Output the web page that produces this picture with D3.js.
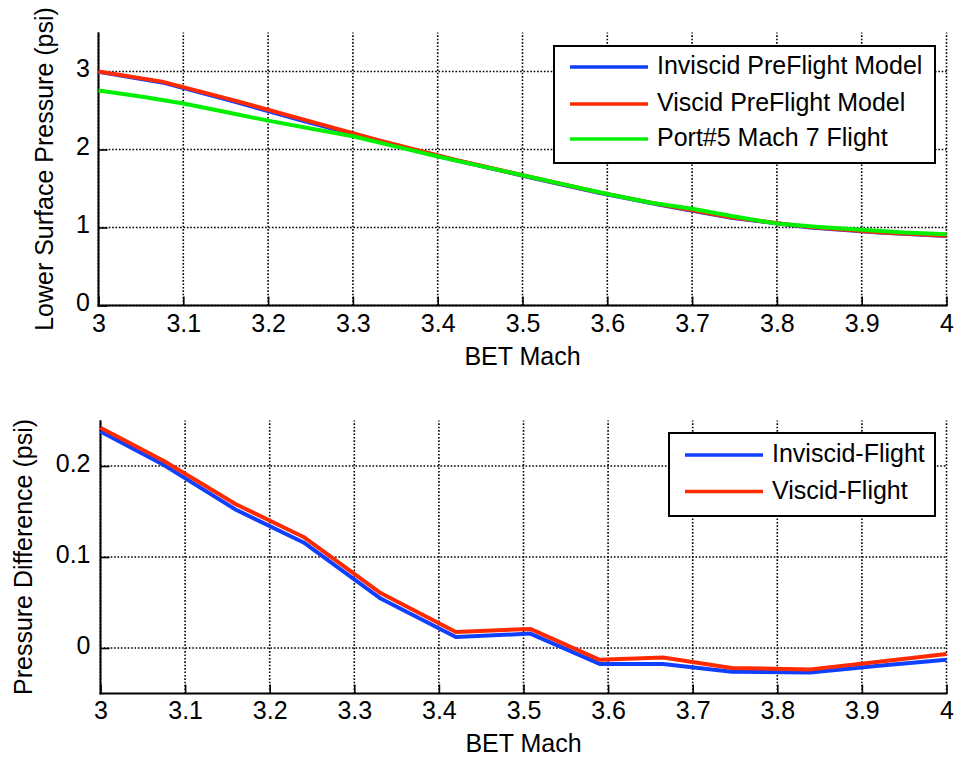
<!DOCTYPE html>
<html>
<head>
<meta charset="utf-8">
<script src="https://cdn.jsdelivr.net/npm/d3@7"></script>
<style>
  html, body { margin: 0; padding: 0; background: #fff; }
  svg { display: block; font-family: "Liberation Sans", Arial, Helvetica, sans-serif; }
</style>
</head>
<body>
<svg id="chart" width="955" height="759"></svg>
<script>
// ---- Data -------------------------------------------------------------
// Model stations (BET Mach) shared by the preflight predictions
const modelMach = [3.0, 3.075, 3.16, 3.24, 3.33, 3.42, 3.508, 3.59, 3.665, 3.746, 3.839, 3.92, 4.0];
// Lower surface pressure (psi), preflight models
const invisidPressure = [2.995, 2.86, 2.615, 2.37, 2.11, 1.865, 1.645, 1.445, 1.285, 1.125, 1.0, 0.935, 0.89];
const viscidPressure  = [3.0, 2.87, 2.63, 2.39, 2.12, 1.87, 1.65, 1.45, 1.29, 1.13, 1.005, 0.94, 0.895];
// Port#5 flight measurement
const flightMach = [3.0, 3.05, 3.1, 3.15, 3.2, 3.25, 3.3, 3.35, 3.4, 3.45, 3.5, 3.55, 3.6, 3.65, 3.7, 3.75, 3.8, 3.85, 3.9, 3.95, 4.0];
const flightPressure = [2.756, 2.68, 2.59, 2.48, 2.37, 2.27, 2.17, 2.04, 1.91, 1.79, 1.67, 1.55, 1.43, 1.32, 1.24, 1.14, 1.05, 1.005, 0.97, 0.935, 0.915];
// Model minus flight (psi)
const inviscidDiff = [0.238, 0.201, 0.152, 0.116, 0.055, 0.012, 0.0158, -0.0175, -0.0175, -0.026, -0.027, -0.0195, -0.013];
const viscidDiff   = [0.242, 0.2055, 0.158, 0.122, 0.061, 0.0175, 0.021, -0.013, -0.0105, -0.022, -0.0235, -0.015, -0.0065];

const machTicks = [3, 3.1, 3.2, 3.3, 3.4, 3.5, 3.6, 3.7, 3.8, 3.9, 4];
const pressureTicks = [0, 1, 2, 3];
const diffTicks = [0, 0.1, 0.2];

const topSeries = [
  { name: "Inviscid PreFlight Model", x: modelMach, y: invisidPressure, color: "#1040ff" },
  { name: "Viscid PreFlight Model",   x: modelMach, y: viscidPressure,  color: "#ff2a00" },
  { name: "Port#5 Mach 7 Flight",     x: flightMach, y: flightPressure, color: "#00f000" }
];
const bottomSeries = [
  { name: "Inviscid-Flight", x: modelMach, y: inviscidDiff, color: "#1040ff" },
  { name: "Viscid-Flight",   x: modelMach, y: viscidDiff,   color: "#ff2a00" }
];

// ---- Drawing ------------------------------------------------------------
const svg = d3.select("#chart");

function drawPanel(cfg) {
  const g = svg.append("g");
  const x = d3.scaleLinear().domain([3, 4]).range([cfg.left, cfg.right]);
  const y = d3.scaleLinear().domain(cfg.yDomain).range([cfg.bottom, cfg.top]);

  // dotted grid
  const grid = g.append("g").attr("stroke", "#000").attr("stroke-width", 1.6)
    .attr("stroke-dasharray", "1.6,1.8").attr("fill", "none");
  machTicks.forEach(t => {
    grid.append("line").attr("x1", x(t)).attr("x2", x(t))
      .attr("y1", cfg.bottom).attr("y2", cfg.top);
  });
  cfg.yTicks.forEach(t => {
    grid.append("line").attr("x1", cfg.left).attr("x2", cfg.right)
      .attr("y1", y(t)).attr("y2", y(t));
  });

  // axes with inward ticks
  const xAxis = d3.axisBottom(x).tickValues(machTicks).tickSizeInner(-9).tickSizeOuter(0)
    .tickPadding(0).tickFormat(d3.format("~g"));
  const gx = g.append("g").attr("transform", `translate(0,${cfg.bottom})`).call(xAxis);
  gx.selectAll(".tick line").attr("stroke", "#000").attr("stroke-width", 1.6);
  gx.selectAll(".tick text").attr("font-size", 25).attr("fill", "#000")
    .attr("y", cfg.xTickBaseline - cfg.bottom).attr("dy", null).attr("font-family", null);

  const yAxis = d3.axisLeft(y).tickValues(cfg.yTicks).tickSizeInner(-9).tickSizeOuter(0)
    .tickPadding(0).tickFormat(d3.format("~g"));
  const gy = g.append("g").attr("transform", `translate(${cfg.left},0)`).call(yAxis);
  gy.selectAll(".tick line").attr("stroke", "#000").attr("stroke-width", 1.6);
  gy.selectAll(".tick text").attr("font-size", 25).attr("fill", "#000")
    .attr("x", cfg.yTickRight - cfg.left).attr("dy", "0.2em").attr("font-family", null);
  g.selectAll(".domain").remove();
  // axis spines as plain lines (no top/right box)
  g.append("line").attr("x1", cfg.left).attr("x2", cfg.left).attr("y1", cfg.bottom + 1).attr("y2", cfg.top)
    .attr("stroke", "#000").attr("stroke-width", 2);
  g.append("line").attr("x1", cfg.left - 1).attr("x2", cfg.right + 1).attr("y1", cfg.bottom).attr("y2", cfg.bottom)
    .attr("stroke", "#000").attr("stroke-width", 2);

  // series
  const line = d3.line().x(d => x(d[0])).y(d => y(d[1]));
  cfg.series.forEach(s => {
    const pts = s.x.map((m, i) => [m, s.y[i]]);
    g.append("path").datum(pts).attr("d", line).attr("fill", "none")
      .attr("stroke", s.color).attr("stroke-width", 4).attr("stroke-linejoin", "round");
  });

  // axis titles
  g.append("text").attr("x", (cfg.left + cfg.right) / 2).attr("y", cfg.xLabelBaseline)
    .attr("text-anchor", "middle").attr("font-size", 25).text("BET Mach");
  g.append("text")
    .attr("transform", `translate(${cfg.yLabelX},${(cfg.top + cfg.bottom) / 2}) rotate(-90)`)
    .attr("text-anchor", "middle").attr("font-size", 25).text(cfg.yLabel);

  // legend
  const lg = cfg.legend;
  g.append("rect").attr("x", lg.x0).attr("y", lg.y0).attr("width", lg.x1 - lg.x0).attr("height", lg.y1 - lg.y0)
    .attr("fill", "#fff").attr("stroke", "#000").attr("stroke-width", 2);
  cfg.series.forEach((s, i) => {
    const ly = lg.rows[i];
    g.append("line").attr("x1", lg.lineX0).attr("x2", lg.lineX1).attr("y1", ly).attr("y2", ly)
      .attr("stroke", s.color).attr("stroke-width", 3.5);
    g.append("text").attr("x", lg.textX).attr("y", ly + 7).attr("font-size", 25).text(s.name);
  });
}

drawPanel({
  left: 98.5, right: 946.5, top: 32.5, bottom: 305.5,
  yDomain: [0, 3.5], yTicks: pressureTicks, series: topSeries,
  xTickBaseline: 332, yTickRight: 90, xLabelBaseline: 365, yLabelX: 53,
  yLabel: "Lower Surface Pressure (psi)",
  legend: { x0: 554, x1: 935, y0: 46, y1: 163, lineX0: 570, lineX1: 648, textX: 657, rows: [67, 104, 139] }
});

drawPanel({
  left: 100.5, right: 946.5, top: 420.5, bottom: 693.5,
  yDomain: [-0.05, 0.25], yTicks: diffTicks, series: bottomSeries,
  xTickBaseline: 719, yTickRight: 90.5, xLabelBaseline: 752, yLabelX: 32,
  yLabel: "Pressure Difference (psi)",
  legend: { x0: 669, x1: 935, y0: 433, y1: 516, lineX0: 685, lineX1: 763, textX: 772, rows: [455, 491.5] }
});
</script>
</body>
</html>
